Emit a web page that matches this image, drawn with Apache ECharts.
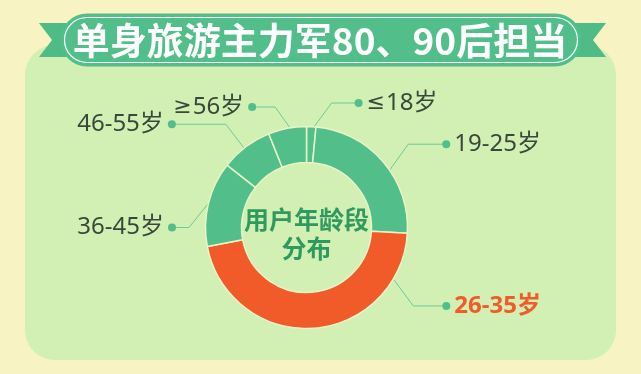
<!DOCTYPE html>
<html>
<head>
<meta charset="utf-8">
<script src="https://cdn.jsdelivr.net/npm/echarts@6/dist/echarts.min.js"></script>
<style>html,body{margin:0;padding:0;background:#f7f3c3;}#c{width:641px;height:374px;}</style>
</head>
<body>
<div id="c"></div>
<script>
// ---- data ----
const categories = ['≤18岁', '19-25岁', '26-35岁', '36-45岁', '46-55岁', '≥56岁'];
const shares = [1.5, 24.4, 46.1, 13.6, 8.3, 6.1];
const titleText = '单身旅游主力军80、90后担当';
const centerText = '用户年龄段\n分布';

// ---- style / layout ----
const GREEN = '#52bf8b', ORANGE = '#f15a29', TEXT = '#3a473b';
const FONT = '"Noto Sans", "Noto Sans CJK SC", sans-serif';
const CX = 306.5, CY = 227.5, R_IN = 65, R_OUT = 101;
// per-label leader geometry: [edge angle, elbow angle, elbow radius, horizontal length] (deg clockwise from top)
const LEADER = [
  [4.3, 11.4, 127, 27],
  [55.4, 50.7, 131.5, 38],
  [120.7, 126.3, 132.5, 33],
  [283.9, 270, 117.5, -17],
  [321.8, 322, 131, -54],
  [350.6, 345.4, 124.5, -23]
];
function polar(a, r) {
  const t = a * Math.PI / 180;
  return [CX + r * Math.sin(t), CY - r * Math.cos(t)];
}

function labelText(n, i, right) {
  let body;
  if (n[0] === '≤' || n[0] === '≥') {
    body = '{s|' + n[0] + '}{u|' + n.slice(1) + '}';
  } else {
    body = '{' + (i === 2 ? 'h' : 't') + '|' + n + '}';
  }
  return right ? '{d|}' + body : body + '{d|}';
}

const chart = echarts.init(document.getElementById('c'), null, {renderer: 'canvas'});
const data = categories.map((n, i) => ({
  name: n, value: shares[i],
  itemStyle: {color: i === 2 ? ORANGE : GREEN},
  label: {formatter: labelText(n, i, LEADER[i][3] > 0)}
}));

chart.setOption({
  backgroundColor: '#f7f3c3',
  animation: false,
  graphic: [
    {type: 'rect', z: -10, shape: {x: 25, y: 45, width: 591, height: 315, r: 30}, style: {fill: '#d2efb4'}},
    {type: 'polygon', z: -9, shape: {points: [[39, 23], [52, 40], [39, 57], [80, 57], [80, 23]]}, style: {fill: '#4fbb86'}},
    {type: 'polygon', z: -9, shape: {points: [[606, 23], [593, 40], [606, 57], [565, 57], [565, 23]]}, style: {fill: '#4fbb86'}},
    {type: 'rect', z: -8, shape: {x: 60.5, y: 13.5, width: 521, height: 53, r: 26.5}, style: {fill: '#52bf8b'}},
    {type: 'rect', z: -7, shape: {x: 64.5, y: 17.5, width: 513, height: 45, r: 22.5}, style: {fill: 'none', stroke: '#ffffff', lineWidth: 1.2}},
    {type: 'text', z: -6, x: 320, y: 41, style: {text: titleText, fill: '#ffffff', font: 'bold 37px "Noto Sans CJK SC"', align: 'center', verticalAlign: 'middle'}},
    {type: 'text', z: 50, x: CX, y: 234, style: {text: centerText, fill: '#2e9a60', font: 'bold 25px "Noto Sans CJK SC"', lineHeight: 29, align: 'center', verticalAlign: 'middle'}}
  ],
  series: [{
    type: 'pie',
    center: [CX, CY],
    radius: [R_IN, R_OUT],
    startAngle: 90,
    clockwise: true,
    avoidLabelOverlap: false,
    itemStyle: {borderColor: '#e9f5c9', borderWidth: 1.5},
    emphasis: {disabled: true},
    label: {
      show: true, position: 'outside',
      rich: {
        d: {width: 8, height: 8, borderRadius: 4, backgroundColor: GREEN},
        t: {fontFamily: FONT, fontSize: 24, color: TEXT, padding: [0, 4, 0, 4]},
        h: {fontFamily: FONT, fontSize: 24, fontWeight: 'bold', color: ORANGE, padding: [0, 4, 0, 4]},
        s: {fontFamily: '"DejaVu Sans"', fontSize: 22, color: TEXT, padding: [0, 1, 0, 4]},
        u: {fontFamily: FONT, fontSize: 24, color: TEXT, padding: [0, 4, 0, 0]}
      }
    },
    labelLine: {show: true, lineStyle: {color: '#6dcb98', width: 1}},
    labelLayout: function (p) {
      const g = LEADER[p.dataIndex];
      const p1 = polar(g[0], R_OUT);
      const p2 = polar(g[1], g[2]);
      const p3 = [p2[0] + g[3], p2[1]];
      const right = g[3] > 0;
      return {
        x: right ? p3[0] - 4 : p3[0] + 4,
        y: p3[1],
        align: right ? 'left' : 'right',
        verticalAlign: 'middle',
        labelLinePoints: [p1, p2, p3]
      };
    },
    data: data
  }]
});
</script>
</body>
</html>
